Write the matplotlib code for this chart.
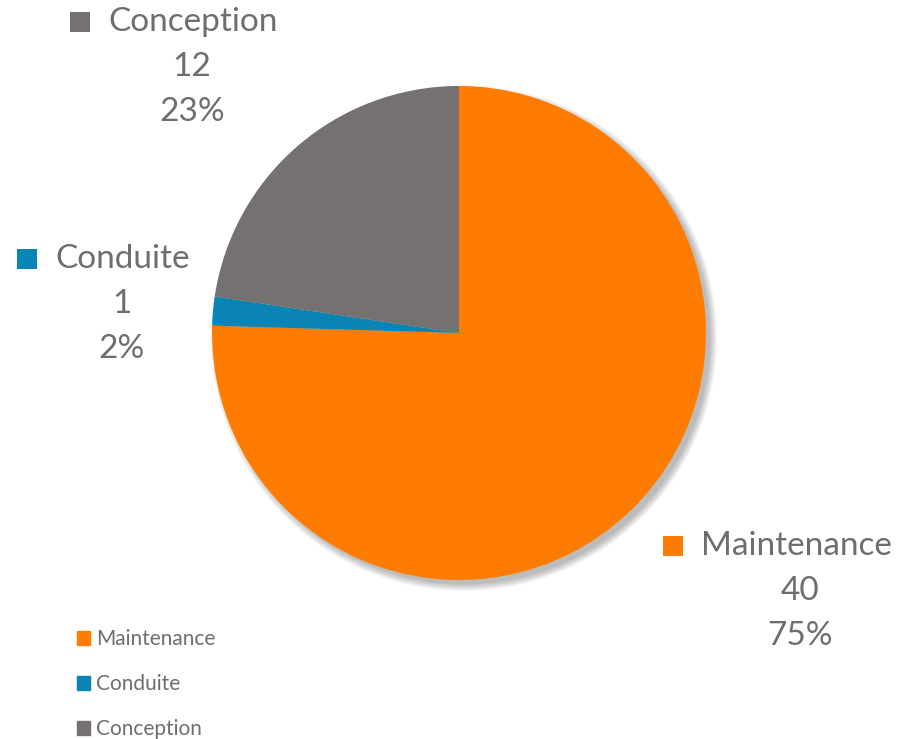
import matplotlib.pyplot as plt
from matplotlib.patches import Circle, Patch, Rectangle

# data
categories = ["Maintenance", "Conduite", "Conception"]
values = [40, 1, 12]
percents = ["75%", "2%", "23%"]
colors = ["#FF7C00", "#0A84B4", "#767171"]

W, H = 904, 739
plt.rcParams['font.family'] = ['Lato', 'DejaVu Sans']
txt_color = "#6E6E6E"

fig = plt.figure(figsize=(W / 100, H / 100), dpi=100)
ax = fig.add_axes([0, 0, 1, 1])

cx, cy, r = 459, H - 333, 247

# soft shadow behind the pie
for k in range(8):
    ax.add_patch(Circle((cx + 5, cy - 5), r + 6 - k, color="#000000",
                        alpha=0.035, lw=0, zorder=0))

ax.pie(values, colors=colors, startangle=90, counterclock=False,
       center=(cx, cy), radius=r, frame=True,
       wedgeprops=dict(linewidth=0, zorder=2))
ax.set_xlim(0, W)
ax.set_ylim(0, H)
ax.set_aspect("equal")
ax.axis("off")

# data labels: (square x, name y, text center x)
lab_pos = {
    "Maintenance": (663, 546, 800),
    "Conduite": (17, 259, 122),
    "Conception": (70, 22, 192),
}
for cat, val, pct, col in zip(categories, values, percents, colors):
    sx, ny, tx = lab_pos[cat]
    ax.add_patch(Rectangle((sx, H - ny - 10), 20, 20, color=col, lw=0))
    ax.text(sx + 38, H - ny, cat, fontsize=24, color=txt_color,
            ha="left", va="center")
    ax.text(tx, H - ny - 45, str(val), fontsize=24, color=txt_color,
            ha="center", va="center")
    ax.text(tx, H - ny - 90, pct, fontsize=24, color=txt_color,
            ha="center", va="center")

handles = [Patch(color=c, label=l) for c, l in zip(colors, categories)]
leg = ax.legend(handles=handles, loc="upper left", bbox_to_anchor=(67 / W, 1 - 619 / H),
                frameon=False, fontsize=15, handlelength=0.6, handleheight=0.6,
                handletextpad=0.3, labelspacing=1.2, borderpad=0)
for t in leg.get_texts():
    t.set_color(txt_color)

fig.savefig("out.png", dpi=100)
